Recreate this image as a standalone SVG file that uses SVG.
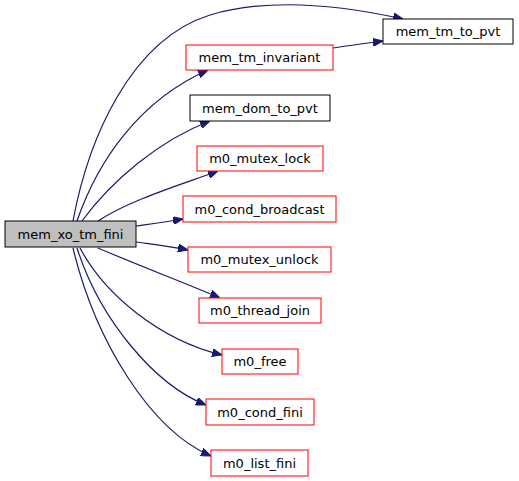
<svg xmlns="http://www.w3.org/2000/svg" width="519" height="481" viewBox="0 0 519 481">
<style>
.n rect{stroke-width:1}
.b rect{fill:#fff;stroke:#000}
.r rect{fill:#fff;stroke:#ff0000}
.s rect{fill:#bfbfbf;stroke:#000}
text{font-family:"DejaVu Sans",sans-serif;font-size:13px;text-anchor:middle;fill:#000}
.e path{fill:none;stroke:#191970;stroke-width:1.2;marker-end:url(#ah)}
</style>
<defs>
<marker id="ah" viewBox="0 0 10 8" refX="10" refY="4" markerWidth="10" markerHeight="8" markerUnits="userSpaceOnUse" orient="auto">
<path d="M0,0 L10,4 L0,8 Z" fill="#191970" stroke="#191970"/>
</marker>
</defs>
<rect width="519" height="481" fill="#fff"/>
<g id="edges" class="e">
<path d="M73,221 C88,140 130,40 210,15 C270,-3 340,5 403,19"/>
<path d="M333,48 C345,46 360,44 383,41"/>
<path d="M77,221 C98,160 140,100 208,70"/>
<path d="M82,221 C112,180 160,140 210,121"/>
<path d="M98,221 C130,200 180,185 218,171"/>
<path d="M136,226 C150,224 165,222 183,219"/>
<path d="M136,242 C150,244 168,246 188,250"/>
<path d="M98,248 C140,266 190,285 220,298"/>
<path d="M80,248 C105,295 160,340 222,355"/>
<path d="M77,248 C100,320 155,385 206,405"/>
<path d="M73,248 C95,340 150,430 211,456"/>
</g>
<g id="mem_xo_tm_fini" class="n s"><rect x="5" y="221" width="131" height="26"/><text x="70.5" y="238.5">mem_xo_tm_fini</text></g>
<g id="mem_tm_to_pvt" class="n b"><rect x="383" y="19" width="130" height="25"/><text x="448" y="36">mem_tm_to_pvt</text></g>
<g id="mem_tm_invariant" class="n r"><rect x="186" y="45" width="147" height="25"/><text x="259.5" y="62">mem_tm_invariant</text></g>
<g id="mem_dom_to_pvt" class="n b"><rect x="190" y="95" width="140" height="26"/><text x="260" y="112.5">mem_dom_to_pvt</text></g>
<g id="m0_mutex_lock" class="n r"><rect x="197" y="146" width="126" height="25"/><text x="260" y="163">m0_mutex_lock</text></g>
<g id="m0_cond_broadcast" class="n r"><rect x="183" y="196" width="153" height="26"/><text x="259.5" y="213.5">m0_cond_broadcast</text></g>
<g id="m0_mutex_unlock" class="n r"><rect x="188" y="247" width="143" height="25"/><text x="259.5" y="264">m0_mutex_unlock</text></g>
<g id="m0_thread_join" class="n r"><rect x="199" y="298" width="122" height="25"/><text x="260" y="315">m0_thread_join</text></g>
<g id="m0_free" class="n r"><rect x="222" y="349" width="76" height="25"/><text x="260" y="366">m0_free</text></g>
<g id="m0_cond_fini" class="n r"><rect x="206" y="399" width="108" height="26"/><text x="260" y="416.5">m0_cond_fini</text></g>
<g id="m0_list_fini" class="n r"><rect x="211" y="450" width="97" height="26"/><text x="259.5" y="467.5">m0_list_fini</text></g>
</svg>
